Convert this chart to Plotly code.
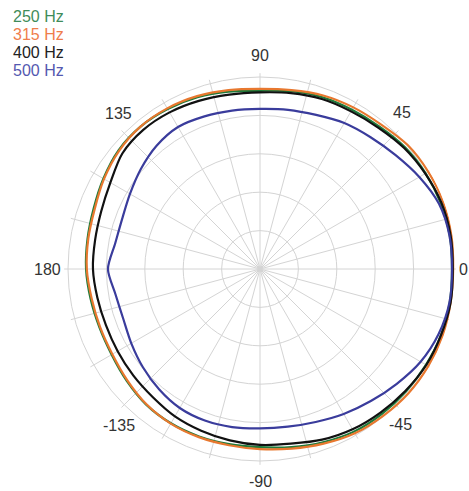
import math
import plotly.graph_objects as go

# Angles in degrees (-180 .. 180, step 10)
angles = list(range(-180, 181, 10))

# Relative level in dB (outer ring = 0 dB, rings every 5 dB)
hz250 = [-2.35, -2.6, -2.75, -2.7, -2.35, -1.95, -1.8, -1.8, -1.85, -1.8, -1.45, -1.0, -0.55, -0.35, -0.2, -0.05, 0.1, 0.1,
         0.0, 0.1, 0.05, -0.1, -0.35, -0.8, -1.05, -1.2, -1.5, -1.8, -1.55, -1.2, -0.95, -0.8, -0.95, -1.45, -1.95, -2.2, -2.35]
hz315 = [-2.45, -2.75, -2.85, -2.8, -2.45, -2.0, -1.75, -1.7, -1.7, -1.55, -1.25, -0.8, -0.3, -0.05, 0.2, 0.3, 0.3, 0.2,
         0.15, 0.3, 0.4, 0.3, 0.1, -0.45, -0.7, -0.95, -1.35, -1.55, -1.35, -1.05, -0.85, -0.8, -1.05, -1.55, -2.1, -2.3, -2.45]
hz400 = [-3.25, -3.5, -3.65, -3.6, -3.45, -3.25, -2.85, -2.6, -2.35, -2.1, -1.9, -1.35, -0.9, -0.6, -0.3, 0.0, 0.1, 0.2,
         0.1, 0.2, 0.15, -0.15, -0.5, -1.0, -1.3, -1.45, -1.75, -2.0, -1.95, -1.7, -1.45, -1.35, -1.6, -2.5, -3.0, -3.2, -3.25]
hz500 = [-5.2, -5.9, -6.05, -5.65, -5.1, -4.55, -4.1, -4.0, -4.1, -4.25, -4.15, -3.8, -3.2, -2.55, -1.75, -0.85, -0.25, 0.05,
         0.0, 0.05, -0.2, -1.05, -1.95, -2.6, -3.05, -3.65, -3.95, -4.15, -4.05, -3.85, -3.65, -4.05, -4.75, -5.45, -5.9, -5.85, -5.2]

series_names = ["250 Hz", "315 Hz", "400 Hz", "500 Hz"]
series_values = [hz250, hz315, hz400, hz500]

# Angle tick labels
label_text = ["0", "45", "90", "135", "180", "-135", "-90", "-45"]

# ---------------- styling / layout ----------------
line_colors = ["#1f7a3a", "#e8782f", "#111111", "#3a3c9c"]
text_colors = ["#3f8c5a", "#ef7d4c", "#222222", "#5458b0"]

grid_angles = list(range(0, 360, 15))
ring_vals = [-20, -15, -10, -5, 0]
r_min, r_max = -25, 0.5

W, H = 469, 491
cx, cy = 260, 269
R0 = 192.0                      # pixel radius of the 0 dB ring
px_per_unit = R0 / 25.0
R = R0 + r_max * px_per_unit    # pixel radius of the plotting area

# where the angle labels sit (angle in degrees, distance from centre in px)
label_theta = [0, 47.7, 90, 132.2, 180, -132.1, -90, -47.9]
label_dist_px = [203, 211, 214, 210, 213, 211, 212, 209]

fig = go.Figure()
for name, vals, col in zip(series_names, series_values, line_colors):
    fig.add_trace(go.Scatterpolar(
        r=vals, theta=angles, mode="lines", name=name,
        line=dict(color=col, width=2.2, shape="spline", smoothing=0.8),
        showlegend=False, hoverinfo="skip",
    ))

fig.update_layout(
    width=W, height=H,
    margin=dict(l=0, r=0, t=0, b=0),
    paper_bgcolor="white",
    plot_bgcolor="white",
    font=dict(family="Liberation Sans, Arial, sans-serif", size=16, color="#333333"),
    polar=dict(
        domain=dict(x=[(cx - R) / W, (cx + R) / W], y=[(H - cy - R) / H, (H - cy + R) / H]),
        bgcolor="white",
        radialaxis=dict(range=[r_min, r_max], tickmode="array", tickvals=ring_vals,
                        showticklabels=False, ticks="", showline=False,
                        gridcolor="#d4d4d4", gridwidth=1),
        angularaxis=dict(tickmode="array", tickvals=grid_angles,
                         direction="counterclockwise", rotation=0,
                         showticklabels=False, ticks="",
                         showline=False, gridcolor="#d4d4d4", gridwidth=1),
    ),
)

for txt, th, d in zip(label_text, label_theta, label_dist_px):
    xp = cx + d * math.cos(math.radians(th))
    yp = cy - d * math.sin(math.radians(th))
    fig.add_annotation(
        x=xp / W, y=1 - yp / H, xref="paper", yref="paper",
        xanchor="center", yanchor="middle", text=txt, showarrow=False,
        font=dict(family="Liberation Sans, Arial, sans-serif", size=16, color="#333333"),
    )

for i, (name, col) in enumerate(zip(series_names, text_colors)):
    fig.add_annotation(
        x=11 / W, y=1 - (16.5 + 18 * i) / H, xref="paper", yref="paper",
        xanchor="left", yanchor="middle", text=name, showarrow=False,
        font=dict(family="Liberation Sans, Arial, sans-serif", size=16, color=col),
    )

fig.write_html("out.html", config={"displayModeBar": False},
               post_script="document.body.style.margin='0';")
